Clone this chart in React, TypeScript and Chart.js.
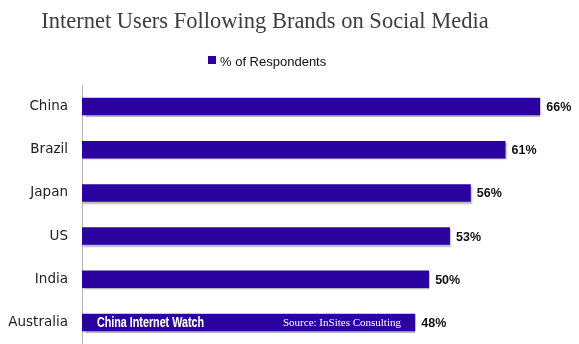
import React, { useEffect, useRef } from "react";
import { Chart, registerables } from "chart.js";

Chart.register(...registerables);

const categories = ["China", "Brazil", "Japan", "US", "India", "Australia"];
const respondents = [66, 61, 56, 53, 50, 48];
const seriesName = "% of Respondents";
const titleText = "Internet Users Following Brands on Social Media";
const watermarkLeft = "China Internet Watch";
const watermarkRight = "Source: InSites Consulting";

const BAR_COLOR = "#2b03a1";

const overlayPlugin = {
  id: "overlay",
  beforeDatasetDraw(chart: any) {
    const ctx = chart.ctx;
    ctx.save();
    ctx.shadowColor = "rgba(0,0,0,0.28)";
    ctx.shadowOffsetX = 1;
    ctx.shadowOffsetY = 2;
    ctx.shadowBlur = 1.5;
  },
  afterDatasetDraw(chart: any) {
    chart.ctx.restore();
  },
  afterDatasetsDraw(chart: any) {
    const ctx = chart.ctx;
    const meta = chart.getDatasetMeta(0);
    const data = chart.data.datasets[0].data as number[];
    ctx.save();
    // value labels
    ctx.font = "bold 12.5px 'Liberation Sans', Arial, sans-serif";
    ctx.fillStyle = "#111";
    ctx.textAlign = "left";
    ctx.textBaseline = "middle";
    meta.data.forEach((bar: any, i: number) => {
      ctx.fillText(data[i] + "%", bar.x + 6, bar.y + 1);
    });
    // watermark texts on last bar
    const last = meta.data[meta.data.length - 1];
    if (last) {
      ctx.fillStyle = "#ffffff";
      ctx.save();
      ctx.shadowColor = "rgba(90,90,90,0.7)";
      ctx.shadowBlur = 1;
      ctx.font = "bold 14px 'Liberation Sans', Arial, sans-serif";
      const w = ctx.measureText(watermarkLeft).width;
      const sx = 107 / w;
      ctx.translate(97, last.y + 1);
      ctx.scale(sx, 1);
      ctx.fillText(watermarkLeft, 0, 0);
      ctx.restore();
      ctx.font = "11px 'Liberation Serif', 'Times New Roman', serif";
      ctx.fillText(watermarkRight, 283, last.y + 1);
    }
    ctx.restore();
  },
  afterDraw(chart: any) {
    const ctx = chart.ctx;
    ctx.save();
    // title
    ctx.font = "22.5px 'Liberation Serif', 'Times New Roman', serif";
    ctx.fillStyle = "#3d3d3d";
    ctx.textAlign = "center";
    ctx.textBaseline = "alphabetic";
    ctx.fillText(titleText, 265, 28);
    // legend
    ctx.fillStyle = BAR_COLOR;
    ctx.fillRect(208, 56, 8, 8);
    ctx.font = "13px 'Liberation Sans', Arial, sans-serif";
    ctx.fillStyle = "#111";
    ctx.textAlign = "left";
    ctx.fillText(seriesName, 220, 65.5);
    ctx.restore();
  },
};

export default function App() {
  const canvasRef = useRef<HTMLCanvasElement | null>(null);

  useEffect(() => {
    if (!canvasRef.current) return;
    const chart = new Chart(canvasRef.current, {
      type: "bar",
      data: {
        labels: categories,
        datasets: [
          {
            label: seriesName,
            data: respondents,
            backgroundColor: BAR_COLOR,
            borderWidth: 0,
            categoryPercentage: 1,
            barPercentage: 0.405,
          },
        ],
      },
      options: {
        indexAxis: "y",
        responsive: false,
        animation: false,
        layout: { padding: { top: 85, bottom: -2, left: 0, right: 11 } },
        plugins: {
          legend: { display: false },
          title: { display: false },
          tooltip: { enabled: false },
        },
        scales: {
          x: {
            display: false,
            min: 0,
            max: 70,
          },
          y: {
            afterFit: (scale: any) => {
              scale.width = 82;
              scale.paddingTop = 0;
              scale.paddingBottom = 0;
            },
            grid: { display: false, drawTicks: false },
            border: { display: true, color: "#b4b4b4", width: 1 },
            ticks: {
              padding: 14,
              color: "#222",
              font: { family: "'DejaVu Sans', sans-serif", size: 13.5 },
            },
          },
        },
      },
      plugins: [overlayPlugin],
    });
    return () => chart.destroy();
  }, []);

  return (
    <div style={{ position: "absolute", left: 0, top: 0, width: 579, height: 344, background: "#fff" }}>
      <canvas ref={canvasRef} width={579} height={344} />
    </div>
  );
}
